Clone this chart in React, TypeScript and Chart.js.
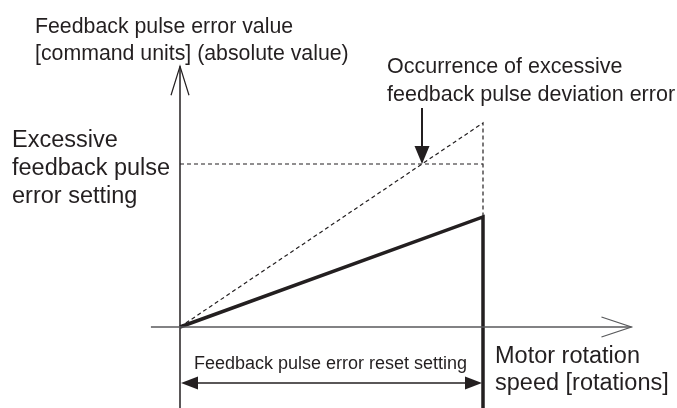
import React, { useEffect, useRef } from "react";
import Chart from "chart.js/auto";

// Speed axis: 0 = origin, 1 = feedback pulse error reset setting
// Error axis: 1 = excessive feedback pulse error setting
const resetSpeed = 1;
const excessiveSetting = 1;
const actualErrorAtReset = 0.675;
const unlimitedErrorAtReset = 1.252;

const actualSpeeds = [0, resetSpeed, resetSpeed];
const actualErrors = [0, actualErrorAtReset, -0.5];
const unlimitedSpeeds = [0, resetSpeed, resetSpeed];
const unlimitedErrors = [0, unlimitedErrorAtReset, actualErrorAtReset];
const settingSpeeds = [0, resetSpeed];
const settingErrors = [excessiveSetting, excessiveSetting];
const xAxisSpeeds = [-0.096, 1.49];
const xAxisErrors = [0, 0];
const yAxisSpeeds = [0, 0];
const yAxisErrors = [-0.5, 1.6];

const yTitle = ["Feedback pulse error value", "[command units] (absolute value)"];
const settingLabel = ["Excessive", "feedback pulse", "error setting"];
const occurrenceLabel = ["Occurrence of excessive", "feedback pulse deviation error"];
const xTitle = ["Motor rotation", "speed [rotations]"];
const resetLabel = "Feedback pulse error reset setting";

const X_MIN = -180 / 303;
const X_MAX = (677 - 180) / 303;
const Y_MIN = -(408 - 327) / 163;
const Y_MAX = 327 / 163;

const INK = "#231f20";
const AXIS = "#58595b";
const FONT = "'Liberation Sans', Arial, sans-serif";

const zip = (xs: number[], ys: number[]) => xs.map((x, i) => ({ x, y: ys[i] }));

export default function App() {
  const ref = useRef<HTMLCanvasElement | null>(null);
  useEffect(() => {
    if (!ref.current) return;
    const annot = {
      id: "annot",
      afterDatasetsDraw(chart: any) {
        const ctx = chart.ctx as CanvasRenderingContext2D;
        const xs = chart.scales.x;
        const ys = chart.scales.y;
        const px = (v: number) => xs.getPixelForValue(v);
        const py = (v: number) => ys.getPixelForValue(v);
        ctx.save();
        // open arrowheads on axes
        ctx.strokeStyle = INK;
        ctx.lineWidth = 1.2;
        const yt = py(yAxisErrors[1]);
        const x0 = px(0);
        ctx.beginPath();
        ctx.moveTo(x0 - 9, yt + 29);
        ctx.lineTo(x0, yt);
        ctx.lineTo(x0 + 9, yt + 29);
        ctx.stroke();
        ctx.strokeStyle = AXIS;
        const xt = px(xAxisSpeeds[1]);
        const y0 = py(0);
        ctx.beginPath();
        ctx.moveTo(xt - 30, y0 - 10);
        ctx.lineTo(xt, y0);
        ctx.lineTo(xt - 30, y0 + 10);
        ctx.stroke();

        // down arrow to crossing point
        ctx.strokeStyle = INK;
        ctx.fillStyle = INK;
        const cx = px((excessiveSetting / unlimitedErrorAtReset) * resetSpeed);
        const cy = py(excessiveSetting);
        ctx.lineWidth = 2;
        ctx.beginPath();
        ctx.moveTo(cx, 108);
        ctx.lineTo(cx, cy - 14);
        ctx.stroke();
        ctx.beginPath();
        ctx.moveTo(cx, cy);
        ctx.lineTo(cx - 7.5, cy - 18);
        ctx.lineTo(cx + 7.5, cy - 18);
        ctx.closePath();
        ctx.fill();

        // double arrow for reset setting
        const ay = 383;
        const ax1 = px(0) + 1;
        const ax2 = px(resetSpeed) - 1;
        ctx.lineWidth = 1.5;
        ctx.beginPath();
        ctx.moveTo(ax1 + 10, ay);
        ctx.lineTo(ax2 - 10, ay);
        ctx.stroke();
        ctx.beginPath();
        ctx.moveTo(ax1, ay);
        ctx.lineTo(ax1 + 17, ay - 6.5);
        ctx.lineTo(ax1 + 17, ay + 6.5);
        ctx.closePath();
        ctx.fill();
        ctx.beginPath();
        ctx.moveTo(ax2, ay);
        ctx.lineTo(ax2 - 17, ay - 6.5);
        ctx.lineTo(ax2 - 17, ay + 6.5);
        ctx.closePath();
        ctx.fill();

        // texts
        ctx.fillStyle = INK;
        ctx.textBaseline = "alphabetic";
        ctx.textAlign = "left";
        ctx.font = "21.3px " + FONT;
        yTitle.forEach((t, i) => ctx.fillText(t, 35, 33 + i * 27));
        ctx.font = "23.5px " + FONT;
        settingLabel.forEach((t, i) => ctx.fillText(t, 12, 147 + i * 28));
        ctx.font = "21.5px " + FONT;
        occurrenceLabel.forEach((t, i) => ctx.fillText(t, 387, 73 + i * 28));
        ctx.font = "23.5px " + FONT;
        xTitle.forEach((t, i) => ctx.fillText(t, 495, 363 + i * 27));
        ctx.font = "18px " + FONT;
        ctx.textAlign = "center";
        ctx.fillText(resetLabel, (px(0) + px(resetSpeed)) / 2 - 1, 369);
        ctx.restore();
      },
    };
    const chart = new Chart(ref.current, {
      type: "scatter",
      data: {
        datasets: [
          { data: zip(xAxisSpeeds, xAxisErrors), borderColor: AXIS, borderWidth: 1.5, showLine: true, pointRadius: 0 },
          { data: zip(yAxisSpeeds, yAxisErrors), borderColor: INK, borderWidth: 1.5, showLine: true, pointRadius: 0 },
          { data: zip(settingSpeeds, settingErrors), borderColor: INK, borderWidth: 1.2, borderDash: [4, 3], showLine: true, pointRadius: 0 },
          { data: zip(unlimitedSpeeds, unlimitedErrors), borderColor: INK, borderWidth: 1.2, borderDash: [4, 3], showLine: true, pointRadius: 0 },
          { data: zip(actualSpeeds, actualErrors), borderColor: INK, borderWidth: 3.5, showLine: true, pointRadius: 0, borderJoinStyle: "miter" as any },
        ],
      },
      options: {
        animation: false,
        responsive: false,
        maintainAspectRatio: false,
        layout: { padding: 0 },
        plugins: { legend: { display: false }, tooltip: { enabled: false }, title: { display: false } },
        scales: {
          x: { type: "linear", min: X_MIN, max: X_MAX, display: false },
          y: { type: "linear", min: Y_MIN, max: Y_MAX, display: false },
        },
        elements: { line: { tension: 0 } },
        clip: false as any,
      },
      plugins: [annot],
    });
    return () => chart.destroy();
  }, []);
  return (
    <div style={{ position: "fixed", left: 0, top: 0, width: 677, height: 408, background: "#fff" }}>
      <canvas ref={ref} width={677} height={408} style={{ display: "block", width: 677, height: 408 }} />
    </div>
  );
}
